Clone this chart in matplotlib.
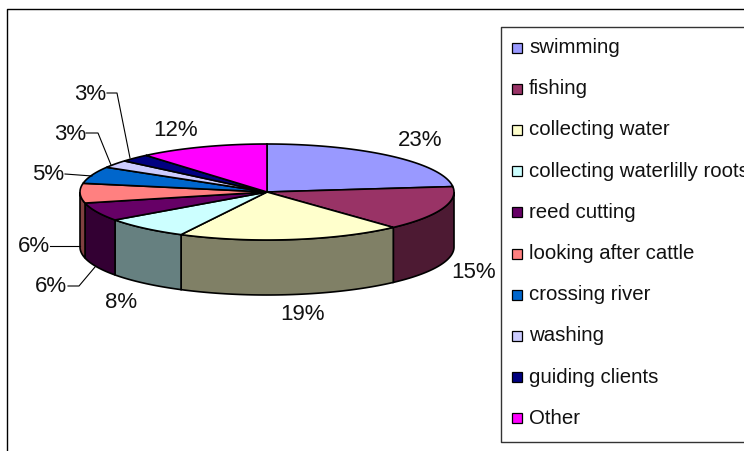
import numpy as np
import matplotlib
matplotlib.use('Agg')
import matplotlib.pyplot as plt
from matplotlib.patches import Polygon, Rectangle

plt.rcParams['font.family'] = ['Liberation Sans', 'DejaVu Sans']

categories = ['swimming', 'fishing', 'collecting water', 'collecting waterlilly roots',
              'reed cutting', 'looking after cattle', 'crossing river', 'washing',
              'guiding clients', 'Other']
values = [23.2, 15.0, 19.4, 7.5, 6.2, 6.6, 5.7, 2.6, 2.6, 11.2]
pct_labels = ['23%', '15%', '19%', '8%', '6%', '6%', '5%', '3%', '3%', '12%']
colors = ['#9999FF', '#993366', '#FFFFCC', '#CCFFFF', '#660066',
          '#FF8080', '#0066CC', '#CCCCFF', '#000080', '#FF00FF']
wall_colors = ['#4D4D80', '#4D1A33', '#808066', '#668080', '#330033',
               '#804040', '#003366', '#666680', '#000040', '#800080']

# pie geometry in pixels
cx, cy = 267, 192
rx, ry = 187, 48
depth = 55

label_pos = [(420, 140), (474, 272), (302, 315), (121, 302), (51, 287),
             (34, 247), (48, 175), (70, 134), (90, 94), (176, 130)]
leaders = [None, None, None, None,
           [(68, 286), (79, 286), (95, 267)],
           [(50, 246), (80, 246)],
           [(65, 174), (92, 176)],
           [(86, 133), (98, 133), (111, 165)],
           [(107, 93), (117, 93), (130, 158)],
           None]


def rim(a0, a1, n=60):
    # angles clockwise from the top of the pie
    t = np.linspace(a0, a1, n)
    return cx + rx * np.sin(t), cy - ry * np.cos(t)


fig = plt.figure(figsize=(7.44, 4.51), dpi=100)
ax = fig.add_axes([0, 0, 1, 1])
ax.set_xlim(0, 744)
ax.set_ylim(451, 0)
ax.axis('off')

# chart area border, runs off the right and bottom
ax.plot([7, 7, 744], [451, 9, 9], color='black', lw=1)

edges = np.cumsum([0] + values) / sum(values) * 2 * np.pi

# side walls for the front half
for i in range(len(values)):
    a0 = max(edges[i], np.pi / 2)
    a1 = min(edges[i + 1], 3 * np.pi / 2)
    if a1 <= a0:
        continue
    x, y = rim(a0, a1)
    pts = np.r_[np.c_[x, y], np.c_[x[::-1], y[::-1] + depth]]
    ax.add_patch(Polygon(pts, closed=True, fc=wall_colors[i], ec='black', lw=1.2, zorder=2))

# top face
for i in range(len(values)):
    x, y = rim(edges[i], edges[i + 1])
    pts = np.r_[[[cx, cy]], np.c_[x, y]]
    ax.add_patch(Polygon(pts, closed=True, fc=colors[i], ec='black', lw=1.2, zorder=3))

for i, lab in enumerate(pct_labels):
    ax.text(label_pos[i][0], label_pos[i][1], lab, fontsize=16, ha='center', va='center',
            color='#111111', zorder=5)
    if leaders[i] is not None:
        ax.plot(*zip(*leaders[i]), color='black', lw=0.8, zorder=4)

# legend
ax.plot([744, 500.5, 500.5, 744], [26.5, 26.5, 441.5, 441.5], color='#333333', lw=1)
for i, name in enumerate(categories):
    ly = 47.5 + i * 41.2
    ax.add_patch(Rectangle((512, ly - 5), 10, 10, fc=colors[i], ec='black', lw=0.9))
    ax.text(529, ly, name, fontsize=14.7, ha='left', va='center', color='#111111', clip_on=True)

fig.savefig('out.png', dpi=100)
